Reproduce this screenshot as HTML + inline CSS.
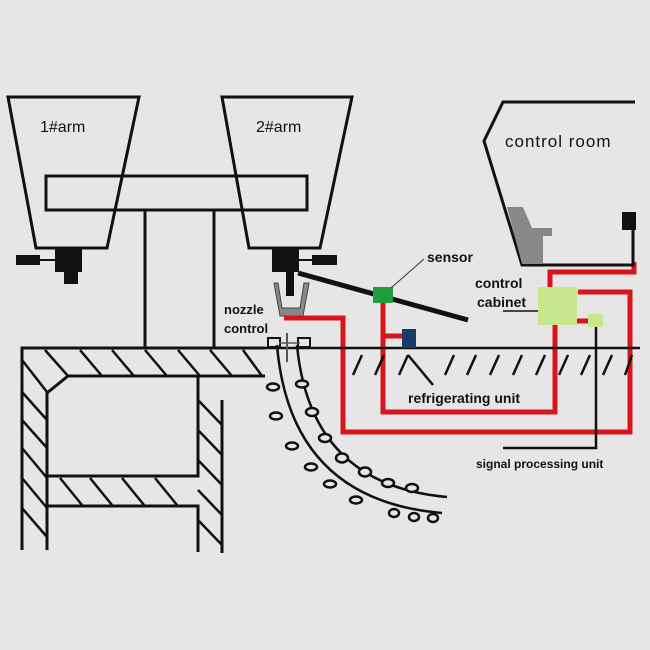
<!DOCTYPE html>
<html><head><meta charset="utf-8"><style>
html,body{margin:0;padding:0;background:#e6e6e6}
svg{display:block}
text{font-family:"Liberation Sans",sans-serif;font-weight:bold;fill:#111}
</style></head><body>
<svg width="650" height="650" viewBox="0 0 650 650" xmlns="http://www.w3.org/2000/svg">
<rect width="650" height="650" fill="#e6e6e6"/>
<g fill="none" stroke="#111" stroke-width="3">
<!-- arms -->
<polygon points="8,97 139,97 107,248 36,248"/>
<polygon points="222,97 352,97 320,248 249,248"/>
<rect x="46" y="176" width="261" height="34"/>
<line x1="145" y1="210" x2="145" y2="348"/>
<line x1="214" y1="210" x2="214" y2="348"/>
</g>
<text x="40" y="132" font-size="16" style="font-weight:normal">1#arm</text>
<text x="256" y="132" font-size="16" style="font-weight:normal">2#arm</text>
<!-- arm blocks -->
<g fill="#111">
<rect x="55" y="248" width="27" height="24"/><rect x="64" y="270" width="14" height="14"/>
<rect x="16" y="255" width="24" height="10"/><rect x="38" y="259" width="18" height="2"/>
<rect x="272" y="248" width="27" height="24"/><rect x="286" y="270" width="8" height="26"/>
<rect x="312" y="255" width="25" height="10"/><rect x="298" y="259" width="15" height="2"/>
</g>
<line x1="298" y1="273" x2="468" y2="320" stroke="#111" stroke-width="5"/>
<!-- nozzle cup -->
<path d="M274,283 L278,283 L282,308 L300,308 L304,283 L309,283 L303,316 L280,316 Z" fill="#888" stroke="#444" stroke-width="1"/>
<!-- red pipes -->
<g fill="none" stroke="#d8141c" stroke-width="5">
<polyline points="284,318 343,318 343,432 630,432 630,292 578,292"/>
<polyline points="383,303 383,412 555,412 555,322"/>
<line x1="383" y1="336" x2="404" y2="336"/>
<polyline points="550,290 550,272 634,272 634,262"/>
<line x1="577" y1="321" x2="590" y2="321"/>
</g>
<!-- ground line -->
<line x1="22" y1="348" x2="640" y2="348" stroke="#111" stroke-width="2.5"/>
<g stroke="#111" stroke-width="2.5">
<line x1="353" y1="375" x2="362" y2="355"/><line x1="375" y1="375" x2="384" y2="355"/>
<line x1="399" y1="375" x2="408" y2="355"/><line x1="408" y1="355" x2="433" y2="385"/>
<line x1="445" y1="375" x2="454" y2="355"/><line x1="467" y1="375" x2="476" y2="355"/>
<line x1="490" y1="375" x2="499" y2="355"/><line x1="513" y1="375" x2="522" y2="355"/>
<line x1="536" y1="375" x2="545" y2="355"/><line x1="559" y1="375" x2="568" y2="355"/>
<line x1="581" y1="375" x2="590" y2="355"/><line x1="603" y1="375" x2="612" y2="355"/>
<line x1="625" y1="375" x2="632" y2="355"/>
</g>
<!-- sensor etc -->
<rect x="373" y="287" width="20" height="16" fill="#1f9e3f"/>
<line x1="391" y1="288" x2="424" y2="259" stroke="#333" stroke-width="1"/>
<rect x="402" y="329" width="14" height="19" fill="#1a3a6a"/>
<rect x="538" y="287" width="39" height="38" fill="#c8e68c"/>
<rect x="588" y="314" width="15" height="13" fill="#c8e68c"/>
<polyline points="596,327 596,448 503,448" fill="none" stroke="#111" stroke-width="2.5"/>
<line x1="503" y1="311" x2="538" y2="311" stroke="#111" stroke-width="1.5"/>
<text x="427" y="262" font-size="14">sensor</text>
<text x="475" y="288" font-size="14">control</text>
<text x="477" y="307" font-size="14">cabinet</text>
<text x="224" y="314" font-size="13">nozzle</text>
<text x="224" y="333" font-size="13">control</text>
<text x="408" y="403" font-size="14">refrigerating unit</text>
<text x="476" y="468" font-size="12">signal processing unit</text>
<!-- control room -->
<polyline points="635,102 503,102 484,141 522,265 633,265 633,212" fill="none" stroke="#111" stroke-width="3"/>
<polygon points="507,207 523,207 532,228 552,228 552,236 543,236 543,264 522,264" fill="#888"/>
<rect x="622" y="212" width="14" height="18" fill="#111"/>
<text x="505" y="147" font-size="17" style="font-weight:normal;letter-spacing:1px">control room</text>
<!-- left structure -->
<g fill="none" stroke="#111" stroke-width="3">
<polyline points="265,348 22,348 22,550"/>
<polyline points="265,376 68,376 47,393 47,550"/>
<polyline points="198,376 198,476 47,476"/>
<polyline points="47,506 198,506 198,552"/>
<line x1="222" y1="400" x2="222" y2="553"/>
</g>
<g stroke="#111" stroke-width="2.5">
<line x1="45" y1="350" x2="68" y2="376"/><line x1="80" y1="350" x2="102" y2="376"/>
<line x1="112" y1="350" x2="134" y2="376"/><line x1="145" y1="350" x2="167" y2="376"/>
<line x1="178" y1="350" x2="200" y2="376"/><line x1="210" y1="350" x2="232" y2="376"/>
<line x1="243" y1="350" x2="262" y2="376"/>
<line x1="22" y1="360" x2="47" y2="392"/><line x1="22" y1="392" x2="47" y2="420"/>
<line x1="22" y1="420" x2="47" y2="448"/><line x1="22" y1="448" x2="47" y2="478"/>
<line x1="22" y1="478" x2="47" y2="508"/><line x1="22" y1="508" x2="47" y2="537"/>
<line x1="60" y1="478" x2="82" y2="505"/><line x1="90" y1="478" x2="112" y2="505"/>
<line x1="122" y1="478" x2="144" y2="505"/><line x1="155" y1="478" x2="177" y2="505"/>
<line x1="198" y1="400" x2="222" y2="425"/><line x1="198" y1="430" x2="222" y2="455"/>
<line x1="198" y1="460" x2="222" y2="485"/><line x1="198" y1="490" x2="222" y2="515"/>
<line x1="198" y1="520" x2="222" y2="545"/>
</g>
<!-- mold -->
<rect x="268" y="338" width="12" height="9" fill="#e6e6e6" stroke="#111" stroke-width="2"/>
<rect x="298" y="338" width="12" height="9" fill="#e6e6e6" stroke="#111" stroke-width="2"/>
<line x1="287" y1="333" x2="287" y2="362" stroke="#555" stroke-width="2"/>
<line x1="279" y1="343" x2="300" y2="343" stroke="#555" stroke-width="1.5"/>
<!-- strand -->
<g fill="none" stroke="#111" stroke-width="2.5">
<path d="M277,345 Q290,500 442,513"/>
<path d="M297,345 Q310,485 447,497"/>
</g>
<g fill="#e6e6e6" stroke="#111" stroke-width="2.5">
<ellipse cx="273" cy="387" rx="6" ry="3.5"/><ellipse cx="276" cy="416" rx="6" ry="3.5"/>
<ellipse cx="292" cy="446" rx="6" ry="3.5"/><ellipse cx="311" cy="467" rx="6" ry="3.5"/>
<ellipse cx="330" cy="484" rx="6" ry="3.5"/><ellipse cx="356" cy="500" rx="6" ry="3.5"/>
<ellipse cx="394" cy="513" rx="5" ry="4"/><ellipse cx="414" cy="517" rx="5" ry="4"/>
<ellipse cx="433" cy="518" rx="5" ry="4"/>
<ellipse cx="302" cy="384" rx="6" ry="3.5"/><ellipse cx="312" cy="412" rx="6" ry="4"/>
<ellipse cx="325" cy="438" rx="6" ry="4"/><ellipse cx="342" cy="458" rx="6" ry="4.5"/>
<ellipse cx="365" cy="472" rx="6" ry="4.5"/><ellipse cx="388" cy="483" rx="6" ry="4"/>
<ellipse cx="412" cy="488" rx="6" ry="4"/>
</g>
</svg>
</body></html>
